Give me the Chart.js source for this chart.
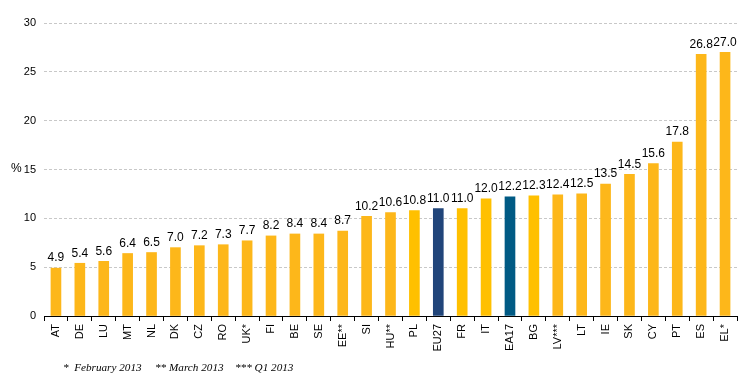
<!DOCTYPE html>
<html>
<head>
<meta charset="utf-8">
<script src="https://cdn.jsdelivr.net/npm/chart.js@4"></script>
<style>
  html, body { margin: 0; padding: 0; background: #fff; }
  #wrap { position: relative; width: 744px; height: 389px; }
  .note { position: absolute; top: 361px; font: italic 11.2px "Liberation Serif", serif; color: #000; white-space: pre; }
</style>
</head>
<body>
<div id="wrap">
  <canvas id="c" width="744" height="389"></canvas>
  <span class="note" style="left:63px">*  February 2013</span>
  <span class="note" style="left:155px">** March 2013</span>
  <span class="note" style="left:235px">*** Q1 2013</span>
</div>
<script>
// countries sorted by rate
const countries = ["AT", "DE", "LU", "MT", "NL", "DK", "CZ", "RO", "UK*", "FI", "BE", "SE", "EE**", "SI", "HU**", "PL",
  "EU27", "FR", "IT", "EA17", "BG", "LV***", "LT", "IE", "SK", "CY", "PT", "ES", "EL*"];
const rates = [4.9, 5.4, 5.6, 6.4, 6.5, 7.0, 7.2, 7.3, 7.7, 8.2, 8.4, 8.4, 8.7, 10.2, 10.6, 10.8,
  11.0, 11.0, 12.0, 12.2, 12.3, 12.4, 12.5, 13.5, 14.5, 15.6, 17.8, 26.8, 27.0];
const yTicks = [0, 5, 10, 15, 20, 25, 30];

const orange = "#FDB71A";
const yellow = "#FFC000";
const special = { "EU27": "#21457A", "EA17": "#005A84", "PL": yellow, "FR": yellow, "IT": yellow, "BG": yellow };
const barColors = countries.map(c => special[c] || orange);

// value on top of each bar
const valueLabels = {
  id: "valueLabels",
  afterDatasetsDraw(chart) {
    const { ctx } = chart;
    const meta = chart.getDatasetMeta(0);
    ctx.save();
    ctx.font = "12px 'Liberation Sans', Arial, sans-serif";
    ctx.fillStyle = "#000";
    ctx.textAlign = "center";
    ctx.textBaseline = "bottom";
    meta.data.forEach((bar, i) => {
      ctx.fillText(rates[i].toFixed(1), bar.x, bar.y - 4);
    });
    // "%" unit next to the 15 tick
    const y15 = chart.scales.y.getPixelForValue(15);
    ctx.textAlign = "left";
    ctx.textBaseline = "middle";
    ctx.fillText("%", 11, y15 - 1);
    ctx.restore();
  }
};

new Chart(document.getElementById("c"), {
  type: "bar",
  data: {
    labels: countries,
    datasets: [{
      data: rates,
      backgroundColor: barColors,
      barThickness: 10,
      borderWidth: 0
    }]
  },
  options: {
    responsive: false,
    animation: false,
    layout: { padding: { top: 23, right: 7, left: 0, bottom: 0 } },
    plugins: { legend: { display: false }, tooltip: { enabled: false } },
    scales: {
      x: {
        grid: { drawOnChartArea: false, offset: true, color: "#000", tickLength: 5, tickColor: "#000" },
        border: { color: "#000", width: 1 },
        ticks: {
          minRotation: 90, maxRotation: 90, autoSkip: false, padding: 3,
          color: "#000", font: { family: "'Liberation Sans', Arial, sans-serif", size: 11 }
        },
        afterFit(s) { s.height = 73; }
      },
      y: {
        min: 0, max: 30,
        afterBuildTicks(s) { s.ticks = yTicks.map(v => ({ value: v })); },
        grid: { color: "#c8c8c8", drawTicks: false },
        border: { display: false, dash: [3, 2] },
        ticks: {
          padding: 8, color: "#000",
          font: { family: "'Liberation Sans', Arial, sans-serif", size: 11 }
        },
        afterFit(s) { s.width = 44; }
      }
    }
  },
  plugins: [valueLabels]
});
</script>
</body>
</html>
